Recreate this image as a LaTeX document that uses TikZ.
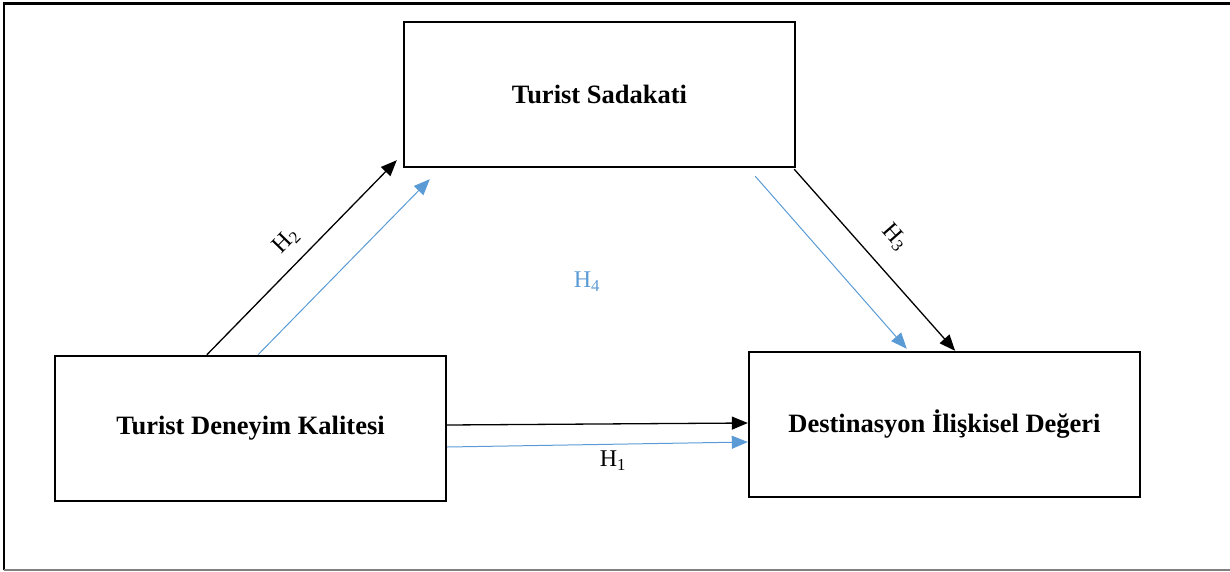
\documentclass[tikz,border=0pt]{standalone}
\usepackage{fontspec}
\setmainfont{Liberation Serif}
\usetikzlibrary{arrows.meta,calc}
\definecolor{hblue}{HTML}{5B9BD5}
\tikzset{
  box/.style={draw=black,line width=2.4pt,minimum width=391pt,minimum height=145pt,inner sep=0pt,
    font=\fontsize{26.5}{32}\selectfont\bfseries},
  blk/.style={draw=black,line width=1.3pt,-{Triangle[length=16pt,width=13pt]}},
  blu/.style={draw=hblue,line width=1pt,-{Triangle[length=16pt,width=13pt]}},
  hlab/.style={font=\fontsize{24}{28}\selectfont,inner sep=1pt},
}
\begin{document}
\begin{tikzpicture}[x=1pt,y=-1pt]
\useasboundingbox (0,0) rectangle (1230,572);
% frame
\draw[black,line width=3pt] (3,4) -- (1230,4);
\draw[black,line width=2pt] (4,4) -- (4,570);
\draw[gray,line width=1.5pt] (4,570) -- (1230,570);
% boxes
\node[box] (sad) at (599.5,94.5) {Turist Sadakati};
\node[box] (den) at (250.5,428.5) {Turist Deneyim Kalitesi};
\node[box] (dst) at (944.5,424.5) {Destinasyon İlişkisel Değeri};
% H2
\draw[blk] ($(den.north west)!0.389!(den.north east)$) -- ($(sad.south west)+(-6,-8)$);
\draw[blu] ($(den.north west)!0.519!(den.north east)$) -- ($(sad.south west)+(27,11)$);
% H3
\draw[blk] ($(sad.south east)+(-2,1)$) -- ($(dst.north west)!0.527!(dst.north east)$);
\draw[blu] ($(sad.south east)+(-41,8)$) -- ($(dst.north west)!0.404!(dst.north east)+(0,-2)$);
% H1
\draw[blk] ($(den.east)+(0,-3.5)$) -- ($(dst.west)+(0,-1.5)$);
\draw[blu] ($(den.east)+(0,18.5)$) -- ($(dst.west)+(0,17.5)$);
% labels
\node[hlab,rotate=45.7] (h2) at (286,241) {H\textsubscript{2}};
\node[hlab,rotate=-48.6] (h3) at (895,237) {H\textsubscript{3}};
\node[hlab] (h1) at (613,461) {H\textsubscript{1}};
\node[hlab,text=hblue] (h4) at (587,282) {H\textsubscript{4}};
\end{tikzpicture}
\end{document}
